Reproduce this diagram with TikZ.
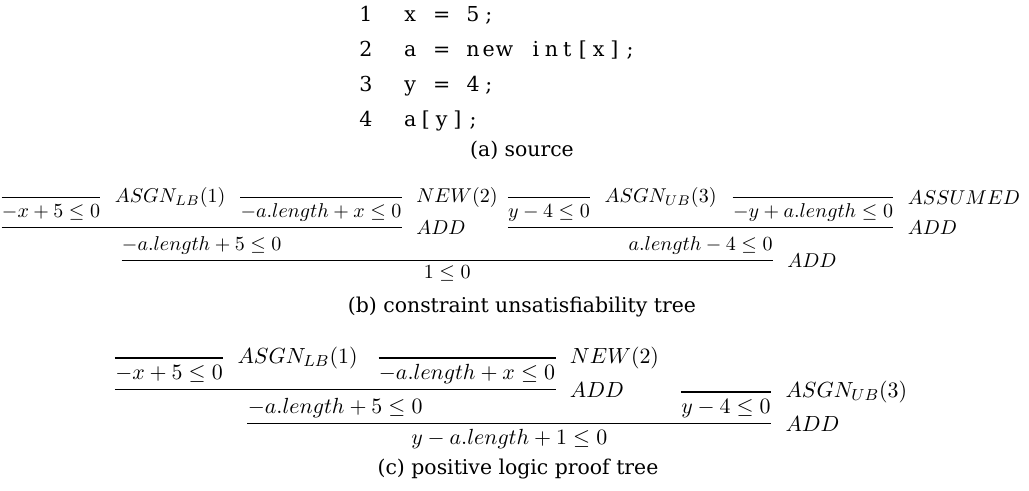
\documentclass[tikz,border=0pt]{standalone}
\usepackage{amsmath}
\usepackage{amssymb}
\usepackage[no-math]{fontspec}
\setmainfont{DejaVu Serif}
\usepackage{tikz}
\usetikzlibrary{calc,positioning}

% fixed-column code line, ~ stands for a blank column
\newcommand\codeln[1]{\codelnA#1\relax}
\def\codelnA#1{\ifx\relax#1\else\makebox[7.85pt]{#1}\expandafter\codelnA\fi}

\tikzset{
  num/.style={anchor=base east, inner sep=0pt, font=\fontsize{10.3}{12}\selectfont},
  code/.style={anchor=base west, inner sep=0pt, font=\fontsize{10.3}{12}\selectfont},
  capt/.style={anchor=base, inner sep=0pt, font=\fontsize{10.2}{12}\selectfont},
  frm/.style={anchor=base, inner sep=0pt, text height=10pt, text depth=4.75pt},
  frmc/.style={frm, text height=10.75pt, font=\fontsize{11}{13}\selectfont},
  rname/.style={anchor=west, inner sep=0pt, xshift=7pt},
  rnamec/.style={rname, font=\fontsize{11}{13}\selectfont},
  bar/.style={line width=0.6pt}
}

\begin{document}
\begin{tikzpicture}[x=0.5pt, y=-0.5pt]
  \useasboundingbox (0,0) rectangle (1029,491);

  % (a) source
  \node[num] (n1) at (373,22) {1};
  \node[code] (l1) at (402,22) {\codeln{x~=~5;}};
  \node[num] (n2) at (373,57) {2};
  \node[code] (l2) at (402,57) {\codeln{a~=~new~int[x];}};
  \node[num] (n3) at (373,92) {3};
  \node[code] (l3) at (402,92) {\codeln{y~=~4;}};
  \node[num] (n4) at (373,127) {4};
  \node[code] (l4) at (402,127) {\codeln{a[y];}};
  \node[capt] (capa) at (522,157) {(a) source};

  % (b) constraint unsatisfiability tree
  \node[frm] (b1) at (51,218) {$-x+5\le0$};
  \node[frm] (b2) at (321,218) {$-a.length+x\le0$};
  \node[frm] (b3) at (549,218) {$y-4\le0$};
  \node[frm] (b4) at (813,218) {$-y+a.length\le0$};
  \draw[bar] (b1.north west) -- (b1.north east);
  \node[rname] at (b1.north east) {$ASGN_{LB}(1)$};
  \draw[bar] (b2.north west) -- (b2.north east);
  \node[rname] at (b2.north east) {$NEW(2)$};
  \draw[bar] (b3.north west) -- (b3.north east);
  \node[rname] at (b3.north east) {$ASGN_{UB}(3)$};
  \draw[bar] (b4.north west) -- (b4.north east);
  \node[rname] at (b4.north east) {$ASSUMED$};

  \draw[bar] (b1.south west) -- (b2.south east);
  \node[rname] at (b2.south east) {$ADD$};
  \node[frm] (b5) at ($(b1.base west)!.5!(b2.base east)+(0,33)$) {$-a.length+5\le0$};
  \draw[bar] (b3.south west) -- (b4.south east);
  \node[rname] at (b4.south east) {$ADD$};
  \node[frm] (b6) at ($(b3.base west)!.5!(b4.base east)+(0,33)$) {$a.length-4\le0$};
  \draw[bar] (b5.south west) -- (b6.south east);
  \node[rname] at (b6.south east) {$ADD$};
  \node[frm] (b7) at ($(b5.base west)!.5!(b6.base east)+(0,28)$) {$1\le0$};
  \node[capt] (capb) at (522,313) {(b) constraint unsatisfiability tree};

  % (c) positive logic proof tree
  \node[frmc] (c1) at (169,380) {$-x+5\le0$};
  \node[frmc] (c2) at (467,380) {$-a.length+x\le0$};
  \draw[bar] (c1.north west) -- (c1.north east);
  \node[rnamec] at (c1.north east) {$ASGN_{LB}(1)$};
  \draw[bar] (c2.north west) -- (c2.north east);
  \node[rnamec] at (c2.north east) {$NEW(2)$};
  \draw[bar] (c1.south west) -- (c2.south east);
  \node[rnamec] at (c2.south east) {$ADD$};
  \node[frmc] (c3) at ($(c1.base west)!.5!(c2.base east)+(0,34)$) {$-a.length+5\le0$};
  \node[frmc] (c4) at (726,414) {$y-4\le0$};
  \draw[bar] (c4.north west) -- (c4.north east);
  \node[rnamec] at (c4.north east) {$ASGN_{UB}(3)$};
  \draw[bar] (c3.south west) -- (c4.south east);
  \node[rnamec] at (c4.south east) {$ADD$};
  \node[frmc] (c5) at ($(c3.base west)!.5!(c4.base east)+(0,31)$) {$y-a.length+1\le0$};
  \node[capt] (capc) at (518,475) {(c) positive logic proof tree};
\end{tikzpicture}
\end{document}
